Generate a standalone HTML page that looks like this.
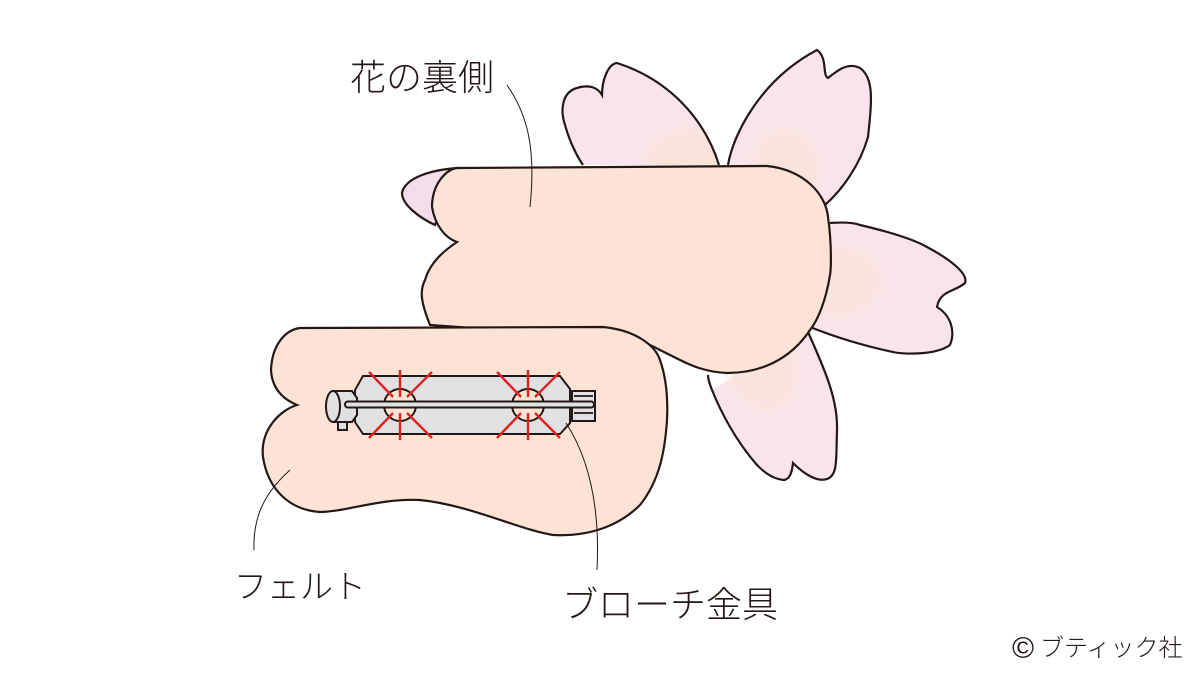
<!DOCTYPE html>
<html><head><meta charset="utf-8"><style>
html,body{margin:0;padding:0;background:#fff;}
svg{display:block}
text{font-family:"Liberation Sans","Noto Sans CJK JP",sans-serif;fill:#231815;font-weight:300}
</style></head><body>
<svg width="1200" height="675" viewBox="0 0 1200 675" xmlns="http://www.w3.org/2000/svg">
<defs>
<filter id="bl"><feGaussianBlur stdDeviation="6"/></filter>
<clipPath id="p1"><path d="M719,165 C705,120 670,80 617,63 C608,64 602,80 602,95 C598,88 590,84 577,88 C562,92 560,110 565,125 C570,143 578,158 583,165 Z"/></clipPath>
<clipPath id="p2"><path d="M728,165 C733,135 760,80 817,50 C828,58 822,75 828,78 C838,70 848,62 860,68 C874,78 872,100 868,137 C860,165 842,190 825,205 Z"/></clipPath>
<clipPath id="p3"><path d="M830,223 C845,222 855,223 860,225 C890,232 915,240 927,247 C955,262 968,275 965,283 C955,292 940,290 937,307 C950,315 956,330 950,345 C935,356 900,354 893,352 C860,345 830,335 810,327 Z"/></clipPath>
<clipPath id="p4"><path d="M808,332 C825,370 838,400 837,430 C836,460 838,475 827,479 C815,483 800,470 793,463 C792,472 790,480 783,480 C770,478 762,470 757,465 C735,440 720,410 712,390 C708,380 708,376 708,375 Z"/></clipPath>
</defs>
<g stroke="#231815" stroke-width="2.2" fill="#f9e4ee">
<g clip-path="url(#p1)"><path d="M719,165 C705,120 670,80 617,63 C608,64 602,80 602,95 C598,88 590,84 577,88 C562,92 560,110 565,125 C570,143 578,158 583,165 Z" stroke="none"/><ellipse cx="690" cy="165" rx="45" ry="38" fill="#fae3da" stroke="none" filter="url(#bl)"/></g>
<path d="M719,165 C705,120 670,80 617,63 C608,64 602,80 602,95 C598,88 590,84 577,88 C562,92 560,110 565,125 C570,143 578,158 583,165" fill="none"/>
<g clip-path="url(#p2)"><path d="M728,165 C733,135 760,80 817,50 C828,58 822,75 828,78 C838,70 848,62 860,68 C874,78 872,100 868,137 C860,165 842,190 825,205 Z" stroke="none"/><ellipse cx="785" cy="170" rx="35" ry="42" fill="#fae3da" stroke="none" filter="url(#bl)"/></g>
<path d="M728,165 C733,135 760,80 817,50 C828,58 822,75 828,78 C838,70 848,62 860,68 C874,78 872,100 868,137 C860,165 842,190 825,205" fill="none"/>
<g clip-path="url(#p3)"><path d="M830,223 L860,225 C890,232 915,240 927,247 C955,262 968,275 965,283 C955,292 940,290 937,307 C950,315 956,330 950,345 C935,356 900,354 893,352 C860,345 830,335 810,327 Z" stroke="none"/><ellipse cx="840" cy="282" rx="42" ry="35" fill="#fae3da" stroke="none" filter="url(#bl)"/></g>
<path d="M830,223 C845,222 855,223 860,225 C890,232 915,240 927,247 C955,262 968,275 965,283 C955,292 940,290 937,307 C950,315 956,330 950,345 C935,356 900,354 893,352 C860,345 830,335 810,327" fill="none"/>
<g clip-path="url(#p4)"><path d="M808,332 C825,370 838,400 837,430 C836,460 838,475 827,479 C815,483 800,470 793,463 C792,472 790,480 783,480 C770,478 762,470 757,465 C735,440 720,410 712,390 Z" stroke="none"/><ellipse cx="765" cy="370" rx="35" ry="40" fill="#fae3da" stroke="none" filter="url(#bl)"/></g>
<path d="M808,332 C825,370 838,400 837,430 C836,460 838,475 827,479 C815,483 800,470 793,463 C792,472 790,480 783,480 C770,478 762,470 757,465 C735,440 720,410 712,390 C708,380 708,376 708,375" fill="none"/>
<path d="M457,168 C430,170 405,178 402,193 C402,205 420,218 435,225 Z" fill="#f3dde9"/>
</g>
<path d="M457,168 L767,166 C805,170 826,195 828,217 C832,245 831,270 830,275 C826,300 818,320 810,330 C790,360 760,373 727,373 C705,372 690,365 680,360 L640,340 L430,325 C420,300 420,290 425,280 C430,262 445,250 457,242 C445,238 435,225 432,207 C432,185 445,170 457,168 Z" fill="#fce3d5" stroke="#231815" stroke-width="2.2"/>
<path d="M300,328 L603,327 C635,330 655,345 660,360 C667,380 668,400 667,420 C665,450 660,480 640,505 C620,525 590,537 553,535 C520,530 470,505 420,500 C380,498 345,512 320,512 C290,510 268,490 263,457 C260,430 280,410 297,405 C285,400 272,390 271,370 C272,345 285,330 300,328 Z" fill="#fce3d5" stroke="#231815" stroke-width="2.2"/>
<g stroke="#231815" stroke-width="2" fill="#e1e1e3">
<rect x="572" y="391" width="23" height="30"/>
<path d="M363,376 L560,376 L570,389 L570,423 L560,434 L363,434 L355,422 L355,390 Z"/>
<rect x="338" y="418" width="9" height="12"/>
<path d="M333,391 L352,391 L357,398 L357,415 L352,422 L333,422 Z"/>
<ellipse cx="333" cy="406.5" rx="7" ry="15.5"/>
<circle cx="400" cy="405" r="16" fill="#fce3d5"/>
<circle cx="528" cy="405" r="16" fill="#fce3d5"/>
<rect x="345" y="401.5" width="249" height="6" rx="3" fill="#e1e1e3"/>
<path d="M574,396 H593 M574,413 H593" fill="none" stroke-width="1.8"/>
</g>
<g stroke="#e0201c" stroke-width="2.4">
<path d="M400,370 V397 M400,413 V440 M369,372 L393,397 M407,413 L432,438 M432,372 L407,397 M393,413 L369,438"/>
<path d="M528,370 V397 M528,413 V440 M497,372 L521,397 M535,413 L560,438 M560,372 L535,397 M521,413 L497,438"/>
</g>
<g stroke="#231815" stroke-width="1" fill="none">
<path d="M507,85 C528,115 536,150 530,207"/>
<path d="M290,470 C262,495 253,520 254,550"/>
<path d="M566,423 C590,460 600,510 597,570"/>
</g>
<text x="350" y="90" font-size="36">花の裏側</text>
<text x="234" y="598" font-size="33">フェルト</text>
<text x="562" y="617" font-size="36">ブローチ金具</text>
<text x="1012" y="658" font-size="30">©</text>
<text x="1040" y="656" font-size="24">ブティック社</text>
</svg>
</body></html>
